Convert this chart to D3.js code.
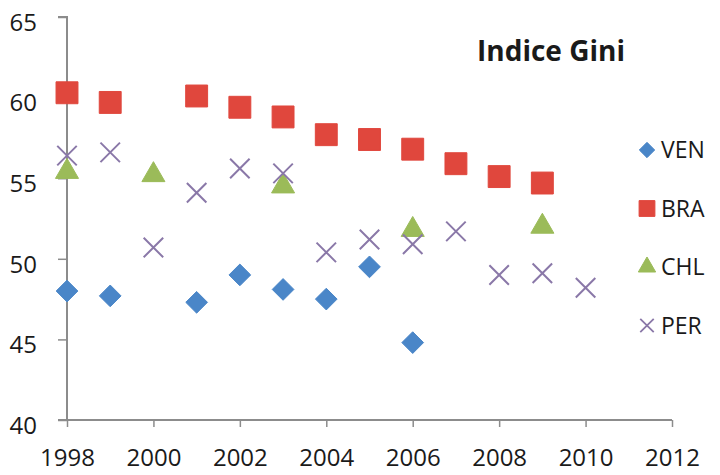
<!DOCTYPE html>
<html>
<head>
<meta charset="utf-8">
<script src="https://cdn.jsdelivr.net/npm/d3@7"></script>
<style>
  html, body { margin: 0; padding: 0; background: #fff; }
  svg { display: block; }
  text { font-family: "Open Sans", "Liberation Sans", sans-serif; fill: #1a1a1a; }
</style>
</head>
<body>
<svg id="chart" width="720" height="475"></svg>
<script>
const xTicks = [1998, 2000, 2002, 2004, 2006, 2008, 2010, 2012];
const yTicks = [40, 45, 50, 55, 60, 65];
const title = "Indice Gini";

const venYears = [1998, 1999, 2001, 2002, 2003, 2004, 2005, 2006];
const venValues = [48.0, 47.7, 47.3, 49.0, 48.1, 47.5, 49.5, 44.8];

const braYears = [1998, 1999, 2001, 2002, 2003, 2004, 2005, 2006, 2007, 2008, 2009];
const braValues = [60.3, 59.7, 60.1, 59.4, 58.8, 57.7, 57.4, 56.8, 55.9, 55.1, 54.7];

const chlYears = [1998, 2000, 2003, 2006, 2009];
const chlValues = [55.4, 55.2, 54.5, 51.8, 52.0];

const perYears = [1998, 1999, 2000, 2001, 2002, 2003, 2004, 2005, 2006, 2007, 2008, 2009, 2010];
const perValues = [56.4, 56.6, 50.7, 54.1, 55.6, 55.3, 50.4, 51.2, 50.9, 51.7, 49.0, 49.1, 48.2];

const seriesNames = ["VEN", "BRA", "CHL", "PER"];
const seriesColors = ["#4a86c8", "#e0473d", "#9bbb59", "#8a78a8"];

const series = [
  {name: seriesNames[0], color: seriesColors[0], shape: "diamond", data: venYears.map((y, i) => ({x: y, y: venValues[i]}))},
  {name: seriesNames[1], color: seriesColors[1], shape: "square", data: braYears.map((y, i) => ({x: y, y: braValues[i]}))},
  {name: seriesNames[2], color: seriesColors[2], shape: "triangle", data: chlYears.map((y, i) => ({x: y, y: chlValues[i]}))},
  {name: seriesNames[3], color: seriesColors[3], shape: "cross", data: perYears.map((y, i) => ({x: y, y: perValues[i]}))}
];

const svg = d3.select("#chart");
const x = d3.scaleLinear().domain([1998, 2012]).range([67, 672]);
const y = d3.scaleLinear().domain([40, 65]).range([420, 17]);

const axisColor = "#8c8c8c";

// Y axis
const yAxis = svg.append("g").attr("transform", "translate(67,0)")
  .call(d3.axisLeft(y).tickValues(yTicks).tickSize(9).tickPadding(21).tickFormat(d3.format("d")));
yAxis.select(".domain").attr("stroke", axisColor).attr("stroke-width", 2).attr("d", "M-9,17H0V420");
yAxis.selectAll(".tick line").attr("stroke", axisColor).attr("stroke-width", 1.5);
yAxis.selectAll(".tick text").attr("font-size", 24).attr("dy", "0.55em")
  .style("font-family", "'Open Sans', sans-serif").attr("fill", "#1a1a1a");

// X axis
const xAxis = svg.append("g").attr("transform", "translate(0,420)")
  .call(d3.axisBottom(x).tickValues(xTicks).tickSize(7).tickPadding(22).tickFormat(d3.format("d")));
xAxis.select(".domain").attr("stroke", axisColor).attr("stroke-width", 2).attr("d", "M58,0H672");
xAxis.selectAll(".tick line").attr("stroke", axisColor).attr("stroke-width", 1.5);
xAxis.selectAll(".tick text").attr("font-size", 24).attr("dy", "0.72em")
  .style("font-family", "'Open Sans', sans-serif").attr("fill", "#1a1a1a");

function symbolFor(shape, size) {
  if (shape === "diamond") return d3.symbol().type(d3.symbolDiamond2).size(size)();
  if (shape === "square") return d3.symbol().type(d3.symbolSquare).size(size)();
  if (shape === "triangle") return d3.symbol().type(d3.symbolTriangle).size(size)();
  return d3.symbol().type(d3.symbolTimes).size(size)();
}
const markerSize = {diamond: 300, square: 480, triangle: 230, cross: 250};
const legendSize = {diamond: 150, square: 250, triangle: 130, cross: 120};

series.forEach(s => {
  const g = svg.append("g");
  g.selectAll("path").data(s.data).join("path")
    .attr("transform", d => `translate(${x(d.x)},${y(d.y)})`)
    .attr("d", symbolFor(s.shape, markerSize[s.shape]))
    .attr("fill", s.shape === "cross" ? "none" : s.color)
    .attr("stroke", s.color)
    .attr("stroke-width", s.shape === "cross" ? 2 : 1);
});

// Title
svg.append("text").attr("x", 551).attr("y", 61).attr("text-anchor", "middle")
  .attr("font-size", 28).attr("font-weight", "bold").text(title);

// Legend
const legend = svg.append("g");
series.forEach((s, i) => {
  const ly = 150 + i * 58.5;
  legend.append("path")
    .attr("transform", `translate(647,${ly})`)
    .attr("d", symbolFor(s.shape, legendSize[s.shape]))
    .attr("fill", s.shape === "cross" ? "none" : s.color)
    .attr("stroke", s.color)
    .attr("stroke-width", s.shape === "cross" ? 1.8 : 1);
  legend.append("text").attr("x", 661).attr("y", ly).attr("dy", "0.36em")
    .attr("font-size", 23).text(s.name);
});
</script>
</body>
</html>
